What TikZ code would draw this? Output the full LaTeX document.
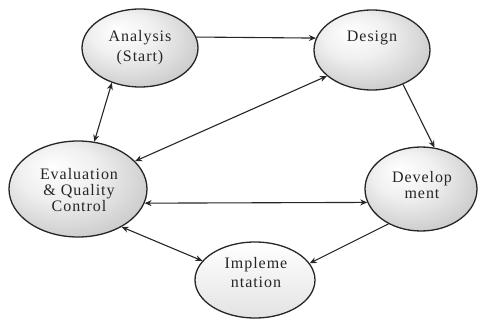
\documentclass[tikz,border=0pt]{standalone}
\usepackage{fontspec}
\setmainfont{Liberation Serif}
\newfontfamily\lblfont[LetterSpace=6]{Liberation Serif}
\usetikzlibrary{shapes.geometric,arrows.meta}
\pgfdeclareradialshading{ballshade}{\pgfpoint{-10bp}{12bp}}{color(0bp)=(white); color(14bp)=(gray!12); color(40bp)=(gray!55); color(50bp)=(gray!70)}
\tikzset{
  blob/.style={ellipse, draw=black!85, line width=1.3pt, inner sep=0pt, shading=ballshade},
  lightblob/.style={ellipse, draw=black!85, line width=1.3pt, inner sep=0pt, top color=white, bottom color=gray!22},
  lbl/.style={align=center, font=\lblfont\fontsize{16}{16}\selectfont, text=black!85},
  conn/.style={line width=1.1pt, draw=black!85, -{Stealth[length=7pt,width=6pt]}},
  dconn/.style={line width=1.1pt, draw=black!85, {Stealth[length=7pt,width=6pt]}-{Stealth[length=7pt,width=6pt]}}
}
\begin{document}
\begin{tikzpicture}[x=1pt,y=-1pt]
\useasboundingbox (0,0) rectangle (478,320);
\node[blob, minimum width=116pt, minimum height=78pt] (ana) at (140,48) {};
\node[blob, minimum width=116pt, minimum height=80pt] (des) at (372,50) {};
\node[blob, minimum width=138pt, minimum height=96pt] (eva) at (78,189) {};
\node[blob, minimum width=112pt, minimum height=84pt] (dev) at (421,189) {};
\node[lightblob, minimum width=120pt, minimum height=76pt] (imp) at (255,280) {};

\node[lbl, font=\lblfont\fontsize{16}{20}\selectfont] (anaT) at (140,48) {Analysis\\(Start)};
\node[lbl] (desT) at (372,38) {Design};
\node[lbl] (evaT) at (79,190) {Evaluation\\\& Quality\\Control};
\node[lbl] (devT) at (422,185) {Develop\\ment};
\node[lbl, font=\lblfont\fontsize{16}{19}\selectfont] (impT) at (256,273) {Impleme\\ntation};

\draw[conn] (ana.11) -- (des.168);
\draw[dconn] (ana.-129) -- (eva.71);
\draw[dconn] (des.-150) -- (eva.26);
\draw[conn] (des.-48) -- (dev.72);
\draw[dconn] (eva.-12) -- (dev.-166);
\draw[conn] (dev.-133) -- (imp.17);
\draw[dconn] (eva.-41) -- (imp.160);
\end{tikzpicture}
\end{document}
